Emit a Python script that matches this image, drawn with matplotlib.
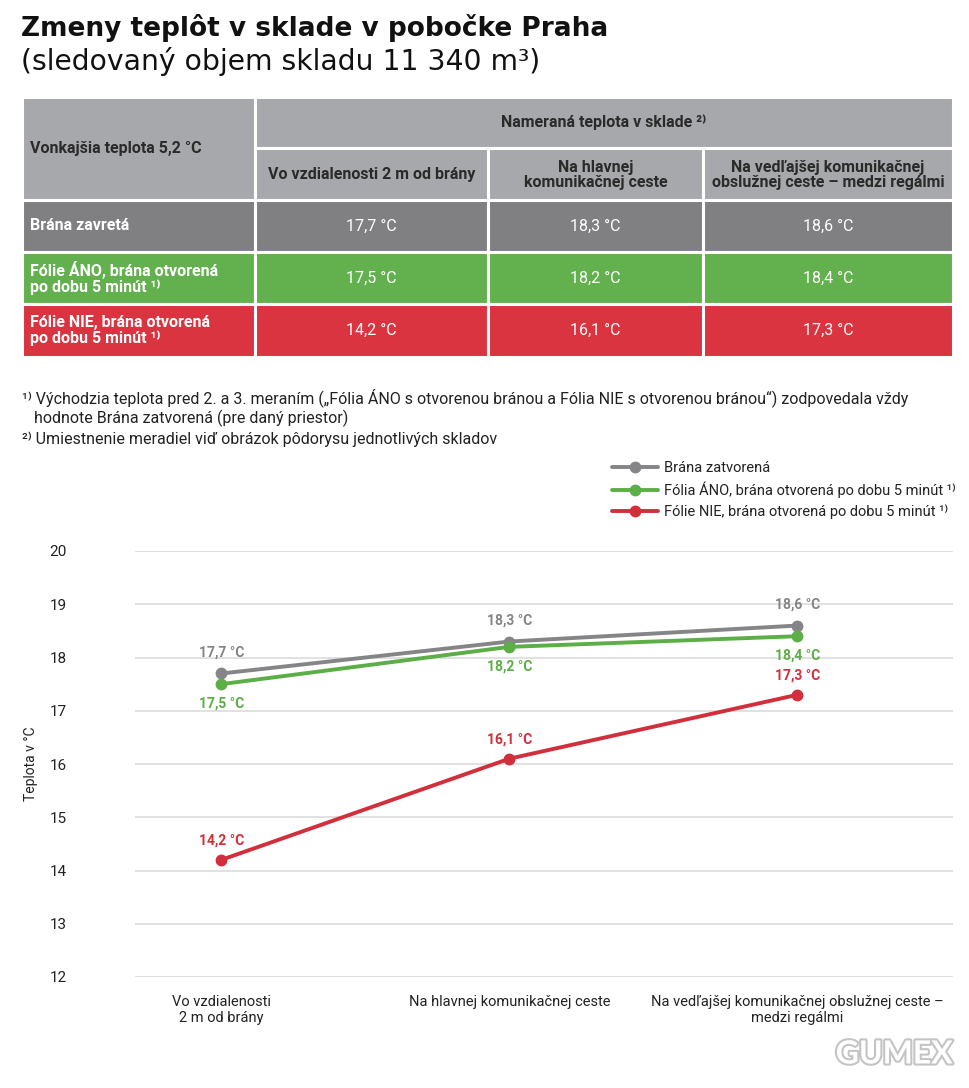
import matplotlib
matplotlib.use("Agg")
import matplotlib.pyplot as plt
from matplotlib.patches import Rectangle
import matplotlib.patheffects as pe

# ---------------- data ----------------
categories = ["Vo vzdialenosti\n2 m od brány",
              "Na hlavnej komunikačnej ceste",
              "Na vedľajšej komunikačnej obslužnej ceste –\nmedzi regálmi"]
table_cols = ["Vo vzdialenosti 2 m od brány",
              "Na hlavnej\nkomunikačnej ceste",
              "Na vedľajšej komunikačnej\nobslužnej ceste – medzi regálmi"]
table_rows = ["Brána zavretá",
              "Fólie ÁNO, brána otvorená\npo dobu 5 minút ¹⁾",
              "Fólie NIE, brána otvorená\npo dobu 5 minút ¹⁾"]
series_names = ["Brána zatvorená",
                "Fólia ÁNO, brána otvorená po dobu 5 minút ¹⁾",
                "Fólie NIE, brána otvorená po dobu 5 minút ¹⁾"]
closed = [17.7, 18.3, 18.6]
foil_yes = [17.5, 18.2, 18.4]
foil_no = [14.2, 16.1, 17.3]
series = [closed, foil_yes, foil_no]
y_ticks = [12, 13, 14, 15, 16, 17, 18, 19, 20]

title = "Zmeny teplôt v sklade v pobočke Praha"
subtitle = "(sledovaný objem skladu 11 340 m³)"
outside_label = "Vonkajšia teplota 5,2 °C"
measured_label = "Nameraná teplota v sklade ²⁾"
notes = ["¹⁾ Východzia teplota pred 2. a 3. meraním („Fólia ÁNO s otvorenou bránou a Fólia NIE s otvorenou bránou“) zodpovedala vždy",
         "   hodnote Brána zatvorená (pre daný priestor)",
         "²⁾ Umiestnenie meradiel viď obrázok pôdorysu jednotlivých skladov"]
y_label = "Teplota v °C"

def fmt(v):
    return f"{v:.1f}".replace(".", ",") + " °C"

# ---------------- style ----------------
line_colors = ["#858588", "#5cae46", "#d12f3b"]
row_colors = ["#808083", "#63b04f", "#d9343f"]
header_color = "#a7a8ab"
TF = ["Roboto", "DejaVu Sans"]
NF = ["Roboto", "DejaVu Sans"]

W, H = 970, 1088
fig = plt.figure(figsize=(W / 100, H / 100), dpi=100)
fig.patch.set_facecolor("white")

ov = fig.add_axes([0, 0, 1, 1])
ov.set_xlim(0, W)
ov.set_ylim(H, 0)
ov.axis("off")

ov.text(21, 28, title, fontsize=19, fontweight="bold", family=["DejaVu Sans"],
        va="center", ha="left", color="#111111")
ov.text(21, 62, subtitle, fontsize=20.3, family=["DejaVu Sans"], fontweight="normal",
        va="center", ha="left", color="#111111")

# ---------------- table ----------------
xe = [22, 255, 488, 703, 953]
ye = [97, 148, 200, 252, 304, 357]

def cell(x0, x1, y0, y1, color):
    ov.add_patch(Rectangle((x0, y0), x1 - x0, y1 - y0, facecolor=color,
                           edgecolor="white", linewidth=2.2))

FS = 11.5
cell(xe[0], xe[1], ye[0], ye[2], header_color)
cell(xe[1], xe[4], ye[0], ye[1], header_color)
for j in range(3):
    cell(xe[j + 1], xe[j + 2], ye[1], ye[2], header_color)
ov.text(30, (ye[0] + ye[2]) / 2, outside_label, fontsize=FS, fontweight="bold",
        family=TF, color="#2a2a2a", ha="left", va="center")
ov.text((xe[1] + xe[4]) / 2, (ye[0] + ye[1]) / 2, measured_label, fontsize=FS,
        fontweight="bold", family=TF, color="#2a2a2a", ha="center", va="center")
for j, lab in enumerate(table_cols):
    ov.text((xe[j + 1] + xe[j + 2]) / 2, (ye[1] + ye[2]) / 2 + 1, lab, fontsize=FS,
            fontweight="bold", family=TF, color="#2a2a2a", ha="center", va="center",
            linespacing=1.0)
for i, (rl, vals) in enumerate(zip(table_rows, series)):
    y0, y1 = ye[i + 2], ye[i + 3]
    cell(xe[0], xe[1], y0, y1, row_colors[i])
    ov.text(30, (y0 + y1) / 2, rl, fontsize=FS, fontweight="bold", family=TF,
            color="white", ha="left", va="center", linespacing=1.05)
    for j, v in enumerate(vals):
        cell(xe[j + 1], xe[j + 2], y0, y1, row_colors[i])
        ov.text((xe[j + 1] + xe[j + 2]) / 2, (y0 + y1) / 2, fmt(v), fontsize=11.5,
                family=TF, color="white", ha="center", va="center")

for k, n in enumerate(notes):
    ov.text(22, 398 + k * 20.5, n, fontsize=11.5, family=NF, color="#222222",
            ha="left", va="center")

# GUMEX logo
ov.text(953, 1054, "GUMEX", fontsize=23, fontweight="bold", family=["Lato", "DejaVu Sans"],
        color="white", ha="right", va="center",
        path_effects=[pe.withStroke(linewidth=3, foreground="#c4c4c4")])

# ---------------- chart ----------------
ax = fig.add_axes([135 / W, 1 - 977 / H, (953 - 135) / W, (977 - 551) / H])
ax.set_facecolor("none")
x = list(range(len(categories)))
lines = []
for s, c, name in zip(series, line_colors, series_names):
    ln, = ax.plot(x, s, color=c, lw=2.8, marker="o", ms=7.5, label=name,
                  solid_capstyle="round", zorder=3)
    lines.append(ln)

offsets = [15, -14, 14]
for s, c, off in zip(series, line_colors, offsets):
    for xi, v in zip(x, s):
        ax.annotate(fmt(v), (xi, v), xytext=(0, off), textcoords="offset points",
                    ha="center", va="center", fontsize=10, fontweight="bold",
                    family=TF, color=c)

ax.set_ylim(12, 20)
ax.set_xlim(-0.3, 2.54)
ax.set_yticks(y_ticks)
ax.set_yticklabels([str(t) for t in y_ticks], family=TF, fontsize=11, color="#222222")
ax.set_xticks(x)
ax.set_xticklabels(categories, family=NF, fontsize=10.5, color="#222222", linespacing=1.15)
ax.tick_params(axis="y", length=0, pad=49)
ax.tick_params(axis="x", length=0, pad=13)
ax.grid(axis="y", color="#dcdcdc", lw=1.2)
for sp in ax.spines.values():
    sp.set_visible(False)
ax.set_ylabel(y_label, family=TF, fontsize=10, color="#222222")
ax.yaxis.set_label_coords(-97 / (953 - 135), 0.5)

leg = ax.legend(handles=lines, loc="upper left", bbox_to_anchor=(606 / W, 1 - 455 / H),
                bbox_transform=fig.transFigure, frameon=False, handlelength=3.2,
                handletextpad=0.4, labelspacing=0.45, borderaxespad=0,
                prop={"family": NF, "size": 10.5})
for t in leg.get_texts():
    t.set_color("#222222")

fig.savefig("out.png", dpi=100, facecolor="white")
